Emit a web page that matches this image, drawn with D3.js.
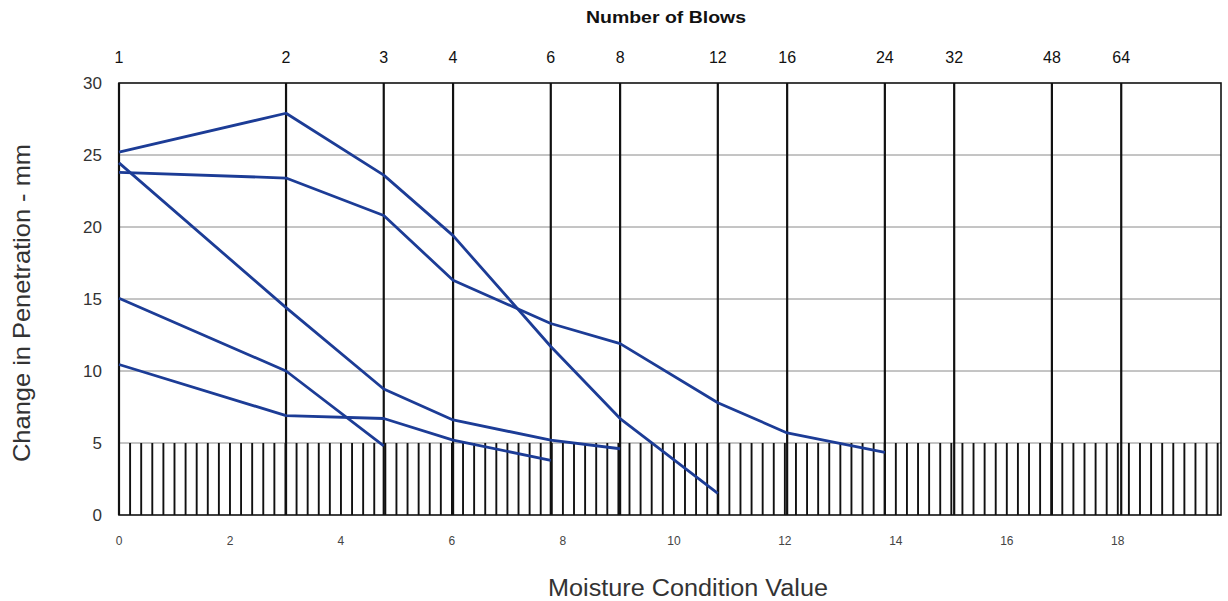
<!DOCTYPE html>
<html>
<head>
<meta charset="utf-8">
<script src="https://cdn.jsdelivr.net/npm/d3@7"></script>
<style>
  html, body { margin: 0; padding: 0; background: #ffffff; }
  svg { display: block; }
  text { font-family: "Liberation Sans", Arial, sans-serif; }
</style>
</head>
<body>
<svg id="chart" width="1228" height="601"></svg>
<script>
// ---- data ----
const blowTicks = [1, 2, 3, 4, 6, 8, 12, 16, 24, 32, 48, 64];
const mcvTicks = [0, 2, 4, 6, 8, 10, 12, 14, 16, 18];
const yTicks = [0, 5, 10, 15, 20, 25, 30];

const seriesA = [25.2, 27.9, 23.6, 19.4, 11.7, 6.7, 1.5];
const seriesB = [23.8, 23.4, 20.8, 16.3, 13.3, 11.9, 7.8, 5.7, 4.35];
const seriesC = [24.45, 14.4, 8.75, 6.6, 5.2, 4.6];
const seriesD = [15.05, 10.0, 4.8];
const seriesE = [10.45, 6.9, 6.7, 5.2, 3.8];
const allSeries = [seriesA, seriesB, seriesC, seriesD, seriesE];

const mcvMax = 19.86;
const hatchStep = 0.2;
const hatchTop = 5;

// ---- layout ----
const pLeft = 119, pRight = 1221, pTop = 83, pBottom = 515;
const svg = d3.select("#chart");

const x = d3.scaleLinear().domain([0, mcvMax]).range([pLeft, pRight]);
const xb = d3.scaleLog().domain([1, Math.pow(10, mcvMax / 10)]).range([pLeft, pRight]);
const y = d3.scaleLinear().domain([0, 30]).range([pBottom, pTop]);

// horizontal grid
svg.append("g").selectAll("line").data(yTicks.filter(d => d > 0 && d < 30)).join("line")
  .attr("x1", pLeft).attr("x2", pRight)
  .attr("y1", d => y(d)).attr("y2", d => y(d))
  .attr("stroke", "#8a8a8a").attr("stroke-width", 1);

// hatching below 5
const hatch = d3.range(hatchStep, mcvMax, hatchStep);
svg.append("g").selectAll("line").data(hatch).join("line")
  .attr("x1", d => x(d)).attr("x2", d => x(d))
  .attr("y1", y(hatchTop)).attr("y2", y(0))
  .attr("stroke", "#111").attr("stroke-width", 1.9);

// blow vertical lines
svg.append("g").selectAll("line").data(blowTicks.slice(1)).join("line")
  .attr("x1", d => xb(d)).attr("x2", d => xb(d))
  .attr("y1", y(30)).attr("y2", y(0))
  .attr("stroke", "#111").attr("stroke-width", 2.2);

// frame
svg.append("rect").attr("x", pLeft).attr("y", pTop)
  .attr("width", pRight - pLeft).attr("height", pBottom - pTop)
  .attr("fill", "none").attr("stroke", "#111").attr("stroke-width", 1.6);
svg.append("line").attr("x1", pLeft).attr("x2", pLeft).attr("y1", pTop).attr("y2", pBottom)
  .attr("stroke", "#111").attr("stroke-width", 2.2);

// series lines
const line = d3.line().x((d, i) => xb(blowTicks[i])).y(d => y(d));
svg.append("g").selectAll("path").data(allSeries).join("path")
  .attr("d", d => line(d))
  .attr("fill", "none").attr("stroke", "#1c3c96").attr("stroke-width", 2.8)
  .attr("stroke-linejoin", "round");

// top axis labels (blows)
svg.append("g").selectAll("text").data(blowTicks).join("text")
  .attr("x", d => xb(d)).attr("y", 63)
  .attr("text-anchor", "middle").attr("font-size", 16).attr("fill", "#111")
  .text(d => d);
svg.append("text").attr("x", 666).attr("y", 23)
  .attr("text-anchor", "middle").attr("font-size", 17).attr("font-weight", "bold").attr("fill", "#111")
  .attr("textLength", 160).attr("lengthAdjust", "spacingAndGlyphs")
  .text("Number of Blows");

// y axis labels
svg.append("g").selectAll("text").data(yTicks).join("text")
  .attr("x", 102).attr("y", d => y(d) + 6)
  .attr("text-anchor", "end").attr("font-size", 17).attr("fill", "#333")
  .text(d => d);
svg.append("text")
  .attr("transform", `translate(30, ${303}) rotate(-90)`)
  .attr("text-anchor", "middle").attr("font-size", 24).attr("fill", "#333")
  .attr("textLength", 318).attr("lengthAdjust", "spacingAndGlyphs")
  .text("Change in Penetration - mm");

// bottom axis labels (MCV)
svg.append("g").selectAll("text").data(mcvTicks).join("text")
  .attr("x", d => x(d)).attr("y", 545)
  .attr("text-anchor", "middle").attr("font-size", 12).attr("fill", "#444")
  .text(d => d);
svg.append("text").attr("x", 688).attr("y", 596)
  .attr("text-anchor", "middle").attr("font-size", 23).attr("fill", "#333")
  .attr("textLength", 280).attr("lengthAdjust", "spacingAndGlyphs")
  .text("Moisture Condition Value");
</script>
</body>
</html>
